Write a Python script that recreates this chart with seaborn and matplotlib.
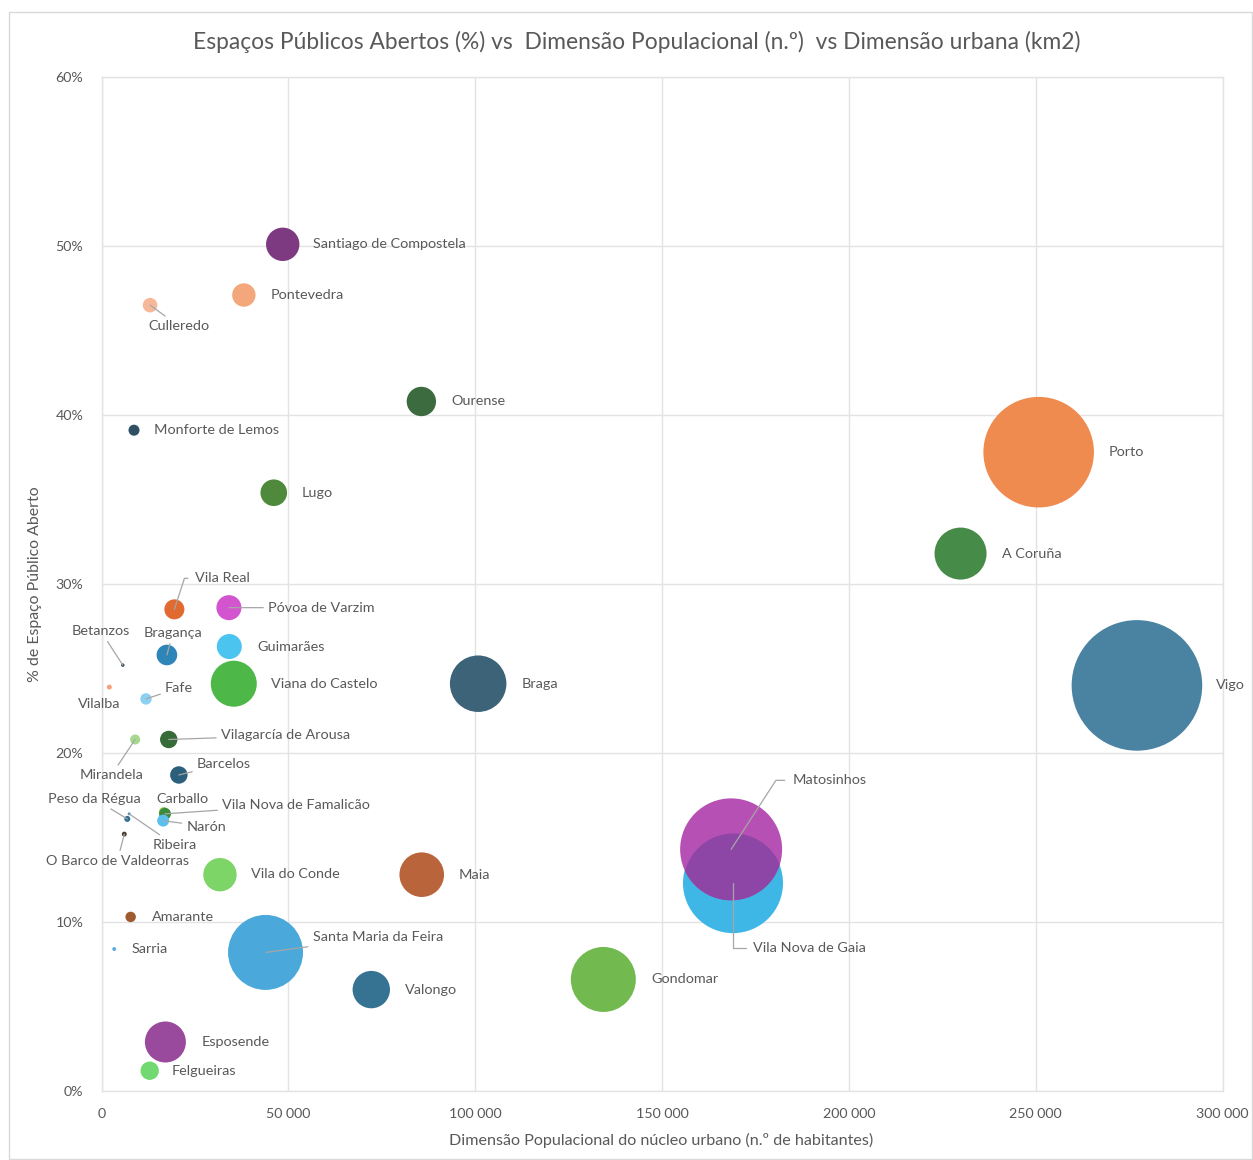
import numpy as np
import pandas as pd
import matplotlib
matplotlib.use("Agg")
import matplotlib.pyplot as plt
import matplotlib.transforms as mtransforms
from matplotlib.patches import Circle, Rectangle
from matplotlib.ticker import FuncFormatter, MultipleLocator
import seaborn as sns

# ---- data -------------------------------------------------------------
cidades = [
    "Santiago de Compostela", "Pontevedra", "Culleredo", "Ourense",
    "Monforte de Lemos", "Lugo", "Porto", "A Coruña", "Vigo", "Braga",
    "Vila Real", "Póvoa de Varzim", "Bragança", "Guimarães",
    "Viana do Castelo", "Betanzos", "Vilalba", "Fafe", "Mirandela",
    "Vilagarcía de Arousa", "Barcelos", "Peso da Régua", "Ribeira",
    "Carballo", "Vila Nova de Famalicão", "Narón", "O Barco de Valdeorras",
    "Vila do Conde", "Maia", "Amarante", "Sarria", "Santa Maria da Feira",
    "Valongo", "Esposende", "Felgueiras", "Gondomar",
    "Vila Nova de Gaia", "Matosinhos",
]
# population of the urban core (inhabitants)
populacao = [
    48500, 38100, 13000, 85600,
    8700, 46100, 250800, 229900, 277100, 100800,
    19500, 34100, 17500, 34200,
    35400, 5700, 2100, 11900, 9000,
    18000, 20700, 6900, 7400,
    16700, 17000, 16500, 6100,
    31700, 85700, 7800, 3400, 43900,
    72200, 17100, 12900, 134300,
    169000, 168500,
]
# share of open public space (%)
espaco_aberto = [
    50.1, 47.1, 46.5, 40.8,
    39.1, 35.4, 37.8, 31.8, 24.0, 24.1,
    28.5, 28.6, 25.8, 26.3,
    24.1, 25.2, 23.9, 23.2, 20.8,
    20.8, 18.7, 16.1, 16.4,
    16.5, 16.4, 16.0, 15.2,
    12.8, 12.8, 10.3, 8.4, 8.2,
    6.0, 2.9, 1.2, 6.6,
    12.3, 14.3,
]
# urban area (km2) -> bubble area
area_km2 = [
    3.67, 1.80, 0.70, 2.84,
    0.40, 2.33, 40.2, 8.9, 56.1, 10.5,
    1.32, 2.06, 1.40, 2.06,
    6.96, 0.04, 0.08, 0.43, 0.33,
    1.00, 1.00, 0.12, 0.03,
    0.33, 0.47, 0.47, 0.08,
    3.67, 6.54, 0.36, 0.05, 18.5,
    4.60, 5.53, 1.11, 13.9,
    32.9, 34.2,
]

# ---- styles -----------------------------------------------------------
cores = [
    "#7E3A80", "#F4A77B", "#F7B89A", "#3D6B40",
    "#2F4F63", "#4F8A3C", "#F08B50", "#468B48", "#4A82A2", "#3D6378",
    "#E06A30", "#D354CF", "#2E86B8", "#4CC4F0",
    "#4DB848", "#3A4A5A", "#F4A07A", "#8ED0F2", "#A6D890",
    "#376B38", "#2C5F7C", "#2F6F96", "#4A90C0",
    "#8CC850", "#3E8A3C", "#5BC0EE", "#4A3A30",
    "#7DD568", "#B9643A", "#A05A30", "#5AAEE0", "#4AA8DA",
    "#367393", "#9A4A9C", "#72D872", "#72BA50",
    "#3FB7E6", "#B650B4",
]
cor_sobreposicao = "#8E46A6"

# label placement: (dx px, dy px downward, ha, leader line)
rotulos = {
    "Santiago de Compostela": (30, 0, "left", False),
    "Pontevedra": (27, 0, "left", False),
    "Culleredo": (29, 21, "center", True),
    "Ourense": (30, 0, "left", False),
    "Monforte de Lemos": (20, 0, "left", False),
    "Lugo": (28, 0, "left", False),
    "Porto": (70, 0, "left", False),
    "A Coruña": (41, 0, "left", False),
    "Vigo": (79, 0, "left", False),
    "Braga": (43, 0, "left", False),
    "Vila Real": (21, -31, "left", True),
    "Póvoa de Varzim": (39, 0, "left", True),
    "Betanzos": (-22, -34, "center", True),
    "Bragança": (6, -22, "center", True),
    "Guimarães": (28, 0, "left", False),
    "Viana do Castelo": (37, 0, "left", False),
    "Vilalba": (-10, 17, "center", False),
    "Fafe": (19, -11, "left", True),
    "Mirandela": (-24, 36, "center", True),
    "Vilagarcía de Arousa": (52, -4, "left", True),
    "Barcelos": (18, -11, "left", True),
    "Peso da Régua": (-33, -20, "center", True),
    "Ribeira": (23, 31, "left", True),
    "Carballo": (19, -13, "center", False),
    "Vila Nova de Famalicão": (57, -9, "left", True),
    "Narón": (23, 6, "left", True),
    "O Barco de Valdeorras": (-7, 27, "center", True),
    "Vila do Conde": (31, -1, "left", False),
    "Maia": (37, 0, "left", False),
    "Amarante": (21, 0, "left", False),
    "Sarria": (17, 0, "left", False),
    "Santa Maria da Feira": (47, -15, "left", True),
    "Valongo": (34, 0, "left", False),
    "Esposende": (36, 0, "left", False),
    "Felgueiras": (22, 0, "left", False),
    "Gondomar": (48, 0, "left", False),
    "Vila Nova de Gaia": (20, 65, "left", True),
    "Matosinhos": (61, -69, "left", True),
}
# leaders that leave the label horizontally and bend towards the bubble
cotovelos = {
    "Vila Real": 72,
    "Matosinhos": 57,
    "Vila Nova de Gaia": 90,
}

TXT = "#595959"
GRID = "#E3E3E3"
LEADER = "#A6A6A6"
FONT = ["Lato", "DejaVu Sans"]

W, H, DPI = 1253, 1160, 100
PX_PER_KM = 76.0  # bubble radius^2 (px^2) per km2

sns.set_theme(style="white")
plt.rcParams["font.family"] = FONT

df = pd.DataFrame({
    "cidade": cidades,
    "populacao": populacao,
    "espaco": espaco_aberto,
    "area": area_km2,
})

fig = plt.figure(figsize=(W / DPI, H / DPI), dpi=DPI)
ax = fig.add_axes([101.5 / W, (H - 1091) / H, 1121 / W, 1014 / H])

vmax = max(area_km2)
pt_per_px = 72.0 / DPI
smax = (2 * pt_per_px) ** 2 * PX_PER_KM * vmax

sns.scatterplot(
    data=df, x="populacao", y="espaco", hue="cidade",
    palette=dict(zip(cidades, cores)),
    size="area", sizes=(0, smax), size_norm=(0, vmax),
    linewidth=0, legend=False, ax=ax, zorder=3,
)

# overlap of Vila Nova de Gaia and Matosinhos
i_gaia = cidades.index("Vila Nova de Gaia")
i_mat = cidades.index("Matosinhos")
sns.scatterplot(
    data=df.iloc[[i_gaia]], x="populacao", y="espaco",
    size="area", sizes=(0, smax), size_norm=(0, vmax),
    color=cor_sobreposicao, linewidth=0, legend=False, ax=ax, zorder=4,
)

ax.set_xlim(0, 300000)
ax.set_ylim(0, 60)

s_mat = smax * area_km2[i_mat] / vmax
r_mat_pt = np.sqrt(s_mat) / 2
clip_tr = (mtransforms.Affine2D().scale(DPI / 72.0)
           + mtransforms.ScaledTranslation(populacao[i_mat], espaco_aberto[i_mat], ax.transData))
clip = Circle((0, 0), r_mat_pt, transform=clip_tr)
ax.collections[-1].set_clip_path(clip)

# axes styling
ax.xaxis.set_major_locator(MultipleLocator(50000))
ax.yaxis.set_major_locator(MultipleLocator(10))
ax.xaxis.set_major_formatter(FuncFormatter(lambda v, p: f"{int(v):,}".replace(",", " ")))
ax.yaxis.set_major_formatter(FuncFormatter(lambda v, p: f"{v:.0f}%"))
ax.grid(True, color=GRID, linewidth=1)
ax.set_axisbelow(True)
for sp in ax.spines.values():
    sp.set_color(GRID)
    sp.set_linewidth(1)
ax.tick_params(axis="both", length=0, colors=TXT, labelsize=10.3)
ax.tick_params(axis="y", pad=13)
ax.tick_params(axis="x", pad=12)

ax.set_xlabel("Dimensão Populacional do núcleo urbano (n.º de habitantes)", color=TXT, fontsize=11.6)
ax.set_ylabel("% de Espaço Público Aberto", color=TXT, fontsize=11.4)
ax.xaxis.set_label_coords(0.499, -0.041)
ax.yaxis.set_label_coords(-0.053, 0.5)

for i, nome in enumerate(cidades):
    dx, dy, ha, leader = rotulos[nome]
    props = None
    if leader:
        props = dict(arrowstyle="-", color=LEADER, lw=0.9, shrinkA=1, shrinkB=0)
        if nome in cotovelos:
            props.update(
                connectionstyle=f"angle,angleA=0,angleB={cotovelos[nome]},rad=0",
                relpos=(0, 0.5), shrinkA=3,
            )
    ax.annotate(
        nome, xy=(populacao[i], espaco_aberto[i]),
        xytext=(dx * pt_per_px, -dy * pt_per_px), textcoords="offset points",
        ha=ha, va="center", fontsize=10.4, color=TXT, zorder=6,
        arrowprops=props,
    )

fig.text(637 / W, 1 - 42 / H,
         "Espaços Públicos Abertos (%) vs  Dimensão Populacional (n.º)  vs Dimensão urbana (km2)",
         ha="center", va="center", fontsize=16.4, color=TXT)

fig.patches.append(Rectangle((9 / W, 1 / H), 1243 / W, 1147 / H, transform=fig.transFigure,
                             fill=False, edgecolor="#D9D9D9", linewidth=1))

fig.savefig("out.png", dpi=DPI)
